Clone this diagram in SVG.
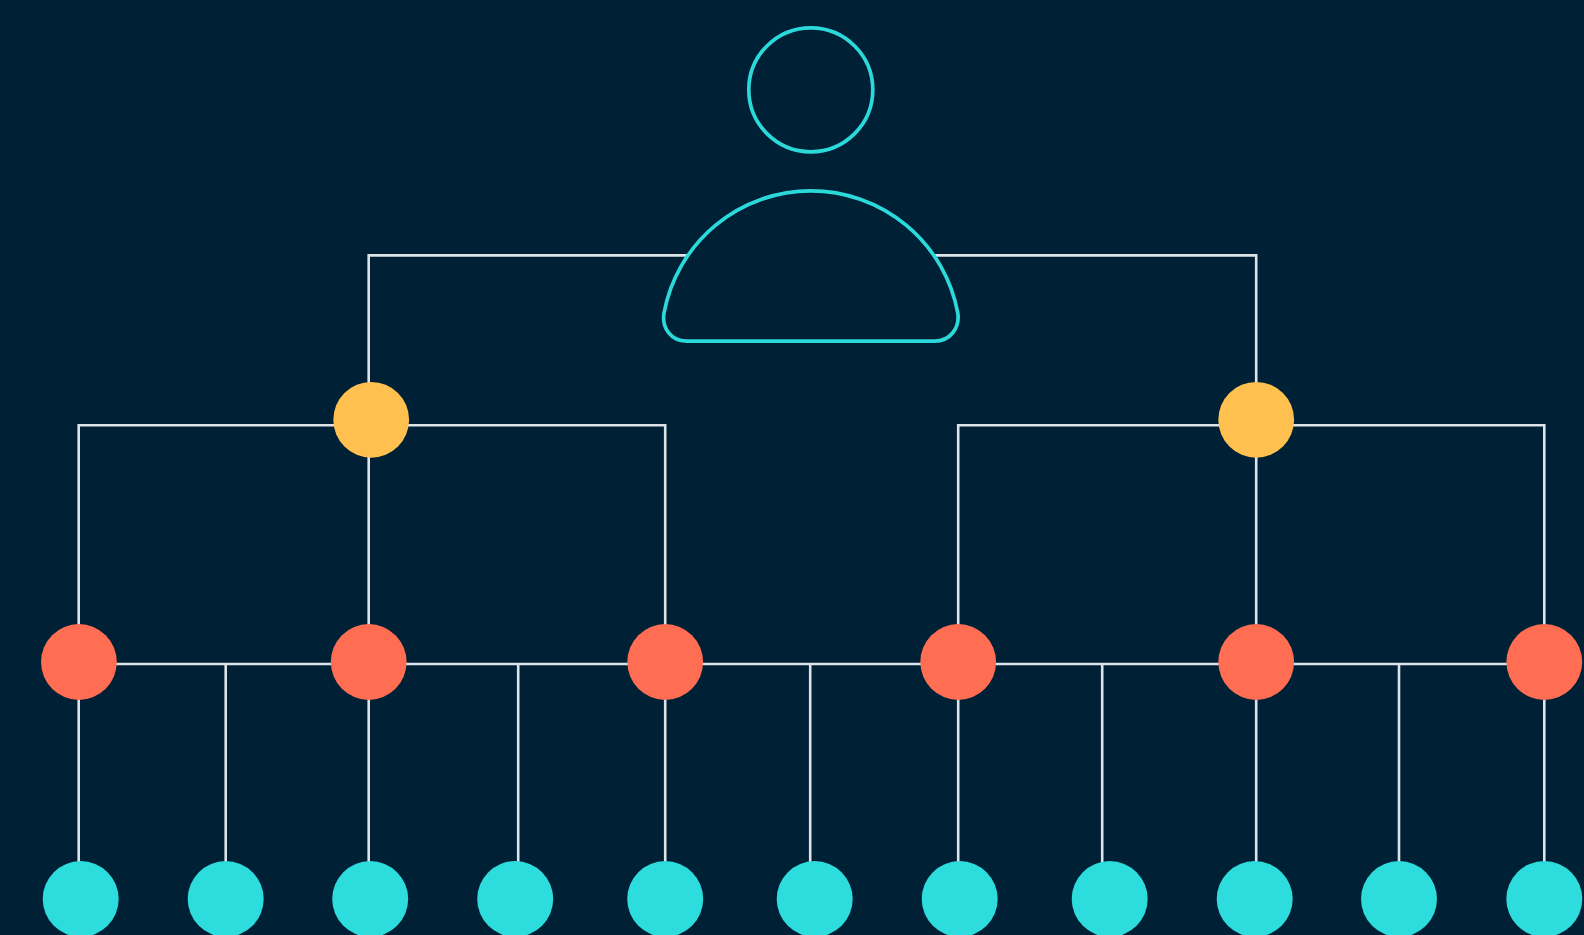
<svg xmlns="http://www.w3.org/2000/svg" width="1584" height="935" viewBox="0 0 1584 935">
<style>
.bg{fill:#002036}
.outline{fill:none;stroke:#2cd9da;stroke-width:3.7}
.conn{fill:none;stroke:#dde4e8;stroke-width:2.6}
.y{fill:#ffc04f}
.r{fill:#ff6e53}
.c{fill:#2ddcdc}
</style>
<rect class="bg" width="1584" height="935"/>
<g id="connectors" class="conn">
<path d="M687.5 255.4H368.7V385"/>
<path d="M934.5 255.4H1256.2V385"/>
<path d="M78.7 640V425.2H665.2V640"/>
<path d="M368.7 425V640"/>
<path d="M958.2 640V425.2H1544.3V640"/>
<path d="M1256.2 425V640"/>
<path d="M78.7 664H1544.3"/>
<path d="M78.7 664V880"/>
<path d="M225.7 664V880"/>
<path d="M368.7 664V880"/>
<path d="M518.2 664V880"/>
<path d="M665.2 664V880"/>
<path d="M810.2 664V880"/>
<path d="M958.2 664V880"/>
<path d="M1102.2 664V880"/>
<path d="M1256.2 664V880"/>
<path d="M1399 664V880"/>
<path d="M1544.3 664V880"/>
</g>
<g id="person-head"><circle class="outline" cx="810.8" cy="89.8" r="62"/></g>
<g id="person-body"><path class="outline" d="M686.5 341.2H934.5C950 341.2 960 328 957.8 313A149.4 149.4 0 0 0 664 313C661.6 328 671 341.2 686.5 341.2Z"/></g>
<g id="mgr-1"><circle class="y" cx="371.2" cy="419.8" r="37.9"/></g>
<g id="mgr-2"><circle class="y" cx="1256.2" cy="419.8" r="37.9"/></g>
<g id="lead-1"><circle class="r" cx="78.9" cy="662" r="37.9"/></g>
<g id="lead-2"><circle class="r" cx="368.7" cy="662" r="37.9"/></g>
<g id="lead-3"><circle class="r" cx="665.2" cy="662" r="37.9"/></g>
<g id="lead-4"><circle class="r" cx="958.2" cy="662" r="37.9"/></g>
<g id="lead-5"><circle class="r" cx="1256.2" cy="662" r="37.9"/></g>
<g id="lead-6"><circle class="r" cx="1544.3" cy="662" r="37.9"/></g>
<g id="member-1"><circle class="c" cx="80.7" cy="899" r="38"/></g>
<g id="member-2"><circle class="c" cx="225.7" cy="899" r="38"/></g>
<g id="member-3"><circle class="c" cx="370.2" cy="899" r="38"/></g>
<g id="member-4"><circle class="c" cx="515.2" cy="899" r="38"/></g>
<g id="member-5"><circle class="c" cx="665.2" cy="899" r="38"/></g>
<g id="member-6"><circle class="c" cx="814.7" cy="899" r="38"/></g>
<g id="member-7"><circle class="c" cx="959.7" cy="899" r="38"/></g>
<g id="member-8"><circle class="c" cx="1109.7" cy="899" r="38"/></g>
<g id="member-9"><circle class="c" cx="1254.7" cy="899" r="38"/></g>
<g id="member-10"><circle class="c" cx="1399" cy="899" r="38"/></g>
<g id="member-11"><circle class="c" cx="1544.3" cy="899" r="38"/></g>
</svg>
